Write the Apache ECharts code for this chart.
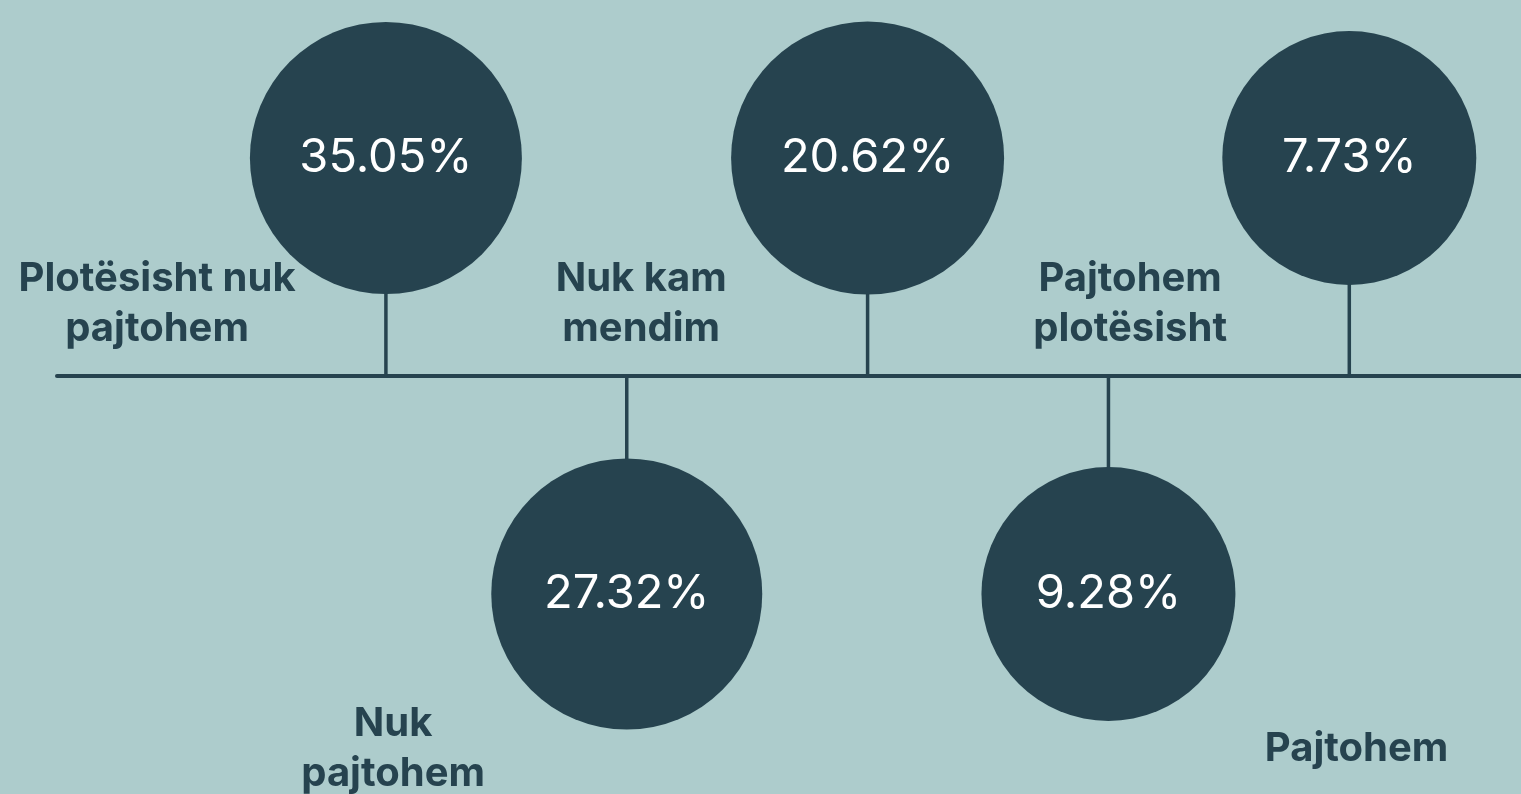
<!DOCTYPE html>
<html>
<head>
<meta charset="utf-8">
<script src="https://cdn.jsdelivr.net/npm/echarts@6/dist/echarts.min.js"></script>
<style>
html,body{margin:0;padding:0;background:#adcccc;}
#main{width:1521px;height:794px;}
</style>
</head>
<body>
<div id="main"></div>
<script>
// te dhenat
var percents=[35.05,27.32,20.62,9.28,7.73];//perqindjet, rendi i rretheve
var sides=[1,-1,1,-1,1];//1 = lart, -1 = poshte
var names=["Plotësisht nuk\npajtohem","Nuk\npajtohem","Nuk kam\nmendim","Pajtohem\nplotësisht","Pajtohem"];

// faqosja (jo te dhena)
var bubbleDiam=[272,271,273,254,254];
var nameSlot=[-0.95,0.03,1.06,3.09,4.03];
var nameLevel=[0.33,-1.71,0.33,0.33,-1.71];

var dark="#26434f";

var circles=[],stems=[],labels=[];
for(var i=0;i<percents.length;i++){
	stems.push([i,sides[i]]);
	circles.push({value:[i,sides[i]],symbolSize:bubbleDiam[i],pct:percents[i]});
}
for(var j=0;j<names.length;j++){
	labels.push({value:[nameSlot[j],nameLevel[j]],name:names[j]});
}

var myChart=echarts.init(document.getElementById('main'));
myChart.setOption({
	backgroundColor:'#adcccc',
	animation:false,
	grid:{left:57,right:0,top:0,bottom:0},
	xAxis:{
		type:'value',
		min:-1.3656,max:4.7129,
		axisLine:{show:true,onZero:true,lineStyle:{color:dark,width:4}},
		axisTick:{show:false},axisLabel:{show:false},splitLine:{show:false}
	},
	yAxis:{
		type:'value',
		min:-1.9174,max:1.7248,
		axisLine:{show:false},axisTick:{show:false},axisLabel:{show:false},splitLine:{show:false}
	},
	series:[
		{
			type:'bar',
			data:stems,
			barWidth:3.5,
			itemStyle:{color:dark},
			silent:true,
			z:1
		},
		{
			type:'scatter',
			data:circles,
			symbol:'circle',
			itemStyle:{color:dark,opacity:1},
			label:{
				show:true,position:'inside',
				formatter:function(p){return p.data.pct.toFixed(2)+'%';},
				color:'#ffffff',fontFamily:'Inter',fontSize:47,fontWeight:'normal'
			},
			z:3
		},
		{
			type:'scatter',
			data:labels,
			symbolSize:2,
			itemStyle:{color:'rgba(0,0,0,0)',opacity:1},
			label:{
				show:true,position:'inside',
				formatter:function(p){return p.data.name;},
				color:dark,fontFamily:'Inter',fontSize:40,fontWeight:'bold',
				lineHeight:50,align:'center'
			},
			labelLayout:{hideOverlap:false},
			z:4
		}
	]
});
</script>
</body>
</html>
